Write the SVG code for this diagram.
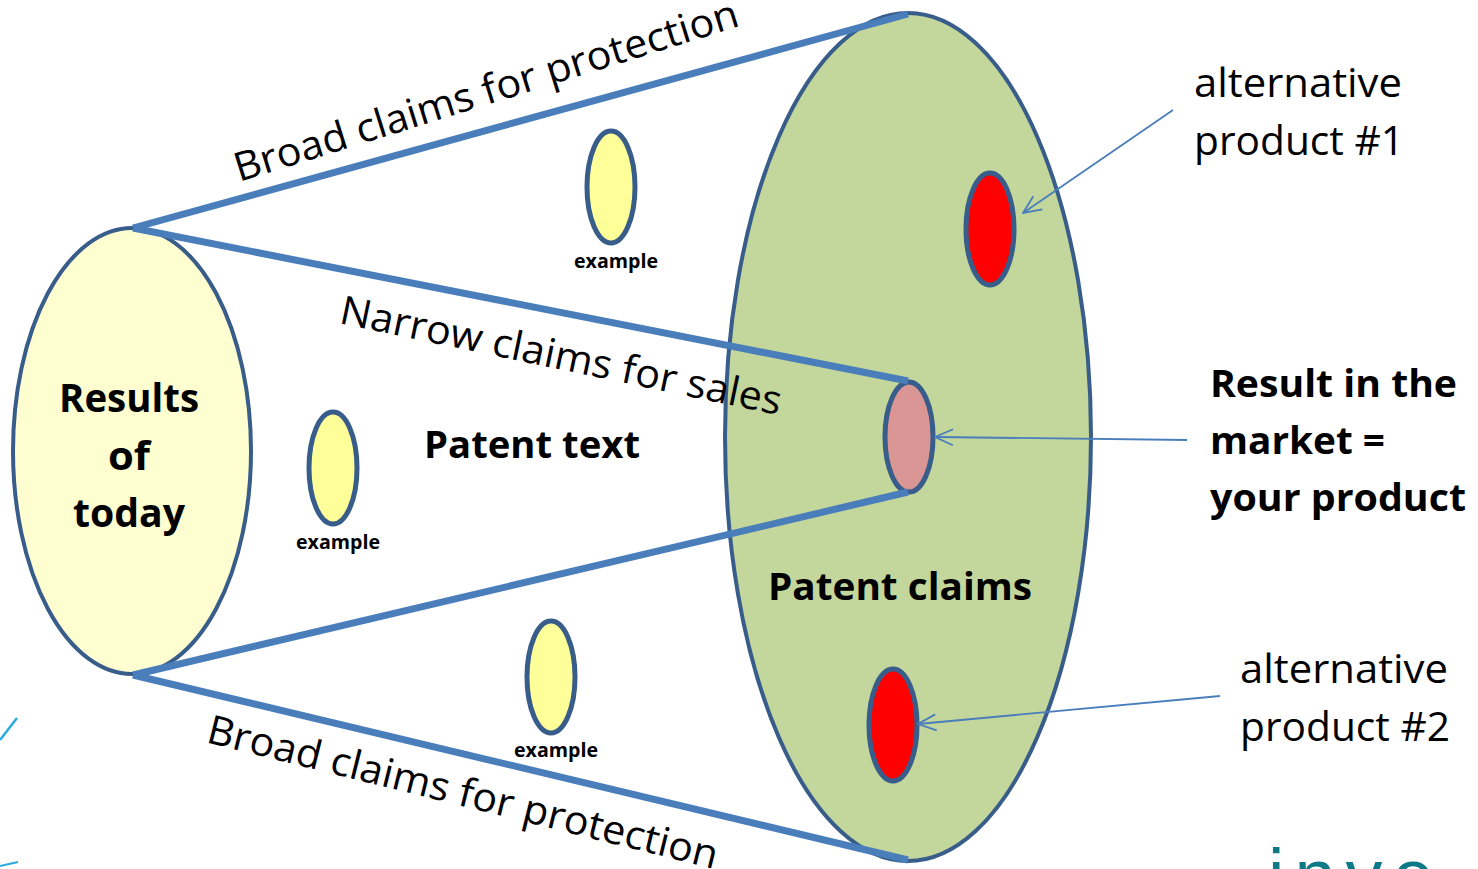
<svg xmlns="http://www.w3.org/2000/svg" width="1478" height="869" viewBox="0 0 1478 869">
<defs>
<marker id="arr" viewBox="0 0 20 20" refX="19" refY="10" markerWidth="20" markerHeight="20" markerUnits="userSpaceOnUse" orient="auto">
<path d="M1 2 L19 10 L1 18" fill="none" stroke="#4a7ebb" stroke-width="1.8"/>
</marker>
</defs>
<style>
.el{stroke:#385d8a;stroke-width:5}
.big{stroke:#385d8a;stroke-width:4}
.ln{stroke:#4a7ebb;stroke-width:7;fill:none}
.ar{stroke:#4a7ebb;stroke-width:1.8;fill:none}
.t{font-family:"Open Sans","Noto Sans","Liberation Sans",sans-serif;fill:#000}
.b{font-weight:700}
.r40{font-size:40px}
.ex{font-size:19px;font-weight:700}
</style>
<rect width="1478" height="869" fill="#ffffff"/>
<g id="results-of-today">
<ellipse cx="132" cy="451" rx="119" ry="223" fill="#fefed0" class="big"/>
<text class="t b" font-size="39" x="129" y="412" text-anchor="middle" textLength="140" lengthAdjust="spacingAndGlyphs">Results</text>
<text class="t b" font-size="39" x="129" y="470" text-anchor="middle" textLength="42" lengthAdjust="spacingAndGlyphs">of</text>
<text class="t b" font-size="39" x="129" y="527" text-anchor="middle" textLength="112" lengthAdjust="spacingAndGlyphs">today</text>
</g>
<g id="patent-claims">
<ellipse cx="908" cy="437" rx="183" ry="424" fill="#c3d69b" class="big"/>
<text class="t b" font-size="38" x="768" y="600" textLength="264" lengthAdjust="spacingAndGlyphs">Patent claims</text>
</g>
<g id="patent-text">
<text class="t b" font-size="38" x="424" y="458" textLength="216" lengthAdjust="spacingAndGlyphs">Patent text</text>
</g>
<g id="example-1">
<ellipse cx="611" cy="187" rx="24" ry="56" fill="#ffff99" class="el"/>
<text class="t ex" x="574" y="268" textLength="84" lengthAdjust="spacingAndGlyphs">example</text>
</g>
<g id="example-2">
<ellipse cx="333" cy="468" rx="24" ry="56" fill="#ffff99" class="el"/>
<text class="t ex" x="296" y="549" textLength="84" lengthAdjust="spacingAndGlyphs">example</text>
</g>
<g id="example-3">
<ellipse cx="551" cy="677" rx="24" ry="56" fill="#ffff99" class="el"/>
<text class="t ex" x="514" y="757" textLength="84" lengthAdjust="spacingAndGlyphs">example</text>
</g>
<g id="your-product">
<ellipse cx="909" cy="437" rx="24" ry="55" fill="#d99694" class="el"/>
</g>
<g id="alt-product-1">
<ellipse cx="990" cy="229" rx="24" ry="56" fill="#ff0000" class="el"/>
</g>
<g id="alt-product-2">
<ellipse cx="893" cy="725" rx="24" ry="56" fill="#ff0000" class="el"/>
</g>
<g id="connectors">
<line class="ln" x1="133" y1="228" x2="908" y2="14"/>
<line class="ln" x1="133" y1="228" x2="908" y2="381"/>
<line class="ln" x1="133" y1="675" x2="908" y2="492"/>
<line class="ln" x1="133" y1="675" x2="908" y2="860"/>
<line class="ar" x1="1173" y1="110" x2="1023" y2="213" marker-end="url(#arr)"/>
<line class="ar" x1="1187" y1="440" x2="935" y2="437" marker-end="url(#arr)"/>
<line class="ar" x1="1220" y1="696" x2="918" y2="724" marker-end="url(#arr)"/>
</g>
<g id="line-labels">
<text class="t r40" transform="translate(239,182) rotate(-17.3)" x="0" y="0" textLength="526" lengthAdjust="spacingAndGlyphs">Broad claims for protection</text>
<text class="t r40" transform="translate(338,323) rotate(11.8)" x="0" y="0" textLength="450" lengthAdjust="spacingAndGlyphs">Narrow claims for sales</text>
<text class="t r40" transform="translate(205,742) rotate(14)" x="0" y="0" textLength="525" lengthAdjust="spacingAndGlyphs">Broad claims for protection</text>
</g>
<g id="label-result">
<text class="t b" font-size="38" x="1210" y="397" textLength="247" lengthAdjust="spacingAndGlyphs">Result in the</text>
<text class="t b" font-size="38" x="1210" y="454" textLength="175" lengthAdjust="spacingAndGlyphs">market =</text>
<text class="t b" font-size="38" x="1210" y="511" textLength="256" lengthAdjust="spacingAndGlyphs">your product</text>
</g>
<g id="label-alt-1">
<text class="t r40" x="1194" y="97" textLength="208" lengthAdjust="spacingAndGlyphs">alternative</text>
<text class="t r40" x="1194" y="155" textLength="210" lengthAdjust="spacingAndGlyphs">product #1</text>
</g>
<g id="label-alt-2">
<text class="t r40" x="1240" y="683" textLength="208" lengthAdjust="spacingAndGlyphs">alternative</text>
<text class="t r40" x="1240" y="741" textLength="210" lengthAdjust="spacingAndGlyphs">product #2</text>
</g>
<g id="edge-fragments">
<line x1="0" y1="740" x2="17" y2="718" stroke="#29abe2" stroke-width="2.5"/>
<line x1="0" y1="866" x2="18" y2="862" stroke="#29abe2" stroke-width="2"/>
<text x="1268" y="901" font-family="'Liberation Sans',sans-serif" font-size="74" fill="#0e7a88" letter-spacing="10">inve</text>
</g>
</svg>
